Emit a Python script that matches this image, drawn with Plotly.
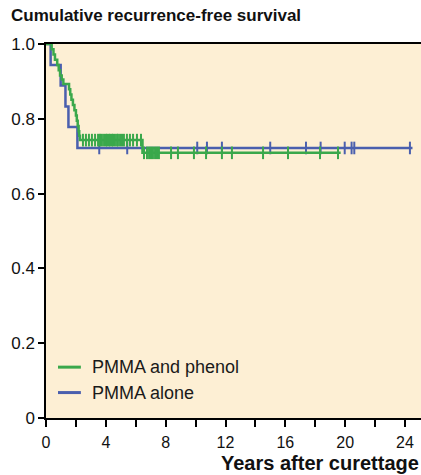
import numpy as np
import plotly.graph_objects as go

# ---- data ----
series_names = ["PMMA and phenol", "PMMA alone"]

# PMMA and phenol: Kaplan-Meier step points (time in years, survival)
green_t = [0, 0.38, 0.5, 0.6, 0.75, 0.85, 0.94, 1.05, 1.16, 1.54, 1.62, 1.7, 1.8,
           1.9, 2.0, 2.06, 2.12, 2.18, 2.22, 2.27, 6.45, 19.7]
green_s = [1.0, 0.986, 0.972, 0.958, 0.944, 0.93, 0.916, 0.905, 0.893, 0.879, 0.865,
           0.851, 0.837, 0.823, 0.809, 0.795, 0.781, 0.767, 0.755, 0.743, 0.709, 0.709]
green_censor = [2.47, 2.67, 2.87, 3.07, 3.28, 3.48, 3.61, 3.74, 3.88, 4.01, 4.08, 4.21,
                4.28, 4.41, 4.48, 4.61, 4.75, 4.81, 4.95, 5.08, 5.21, 5.41, 5.61, 5.82,
                6.08, 6.35, 6.55, 6.75, 6.89, 7.02, 7.15, 7.29, 7.42, 7.55, 8.36, 8.82,
                9.89, 10.70, 11.76, 12.43, 14.51, 16.18, 18.32, 19.52]

# PMMA alone
blue_t = [0, 0.31, 0.98, 1.3, 1.5, 2.1, 24.5]
blue_s = [1.0, 0.944, 0.889, 0.833, 0.778, 0.722, 0.722]
blue_censor = [3.56, 5.43, 10.11, 10.76, 11.76, 14.99, 17.38, 18.36, 19.97, 20.43,
               20.61, 24.33]

x_ticks = [0, 4, 8, 12, 16, 20, 24]
y_ticks = [0, 0.2, 0.4, 0.6, 0.8, 1.0]
y_ticklabels = ["0", "0.2", "0.4", "0.6", "0.8", "1.0"]

GREEN = "#3aa84b"
BLUE = "#4a5fae"
BG = "#fdefd4"
FONT = "Liberation Sans, Arial, sans-serif"


def step_value(times, surv, t):
    idx = np.searchsorted(np.array(times), t, side="right") - 1
    return [surv[i] for i in idx]


fig = go.Figure()
for name, t, s, cens, col in [
    (series_names[1], blue_t, blue_s, blue_censor, BLUE),
    (series_names[0], green_t, green_s, green_censor, GREEN),
]:
    fig.add_trace(go.Scatter(x=t, y=s, mode="lines", line=dict(color=col, width=2.5, shape="hv"),
                             name=name, showlegend=False, hoverinfo="skip"))
    fig.add_trace(go.Scatter(x=cens, y=step_value(t, s, cens), mode="markers",
                             marker=dict(symbol="line-ns", size=9, color=col,
                                         line=dict(width=2, color=col)),
                             showlegend=False, hoverinfo="skip"))

# manual legend (short line samples like the reference)
leg_y = [0.136, 0.068]
for name, col, yy in [(series_names[0], GREEN, leg_y[0]), (series_names[1], BLUE, leg_y[1])]:
    fig.add_shape(type="line", xref="paper", yref="paper", x0=0.032, x1=0.093, y0=yy, y1=yy,
                  line=dict(color=col, width=3))
    fig.add_annotation(xref="paper", yref="paper", x=0.116, y=yy, text=name, showarrow=False,
                       xanchor="left", yanchor="middle",
                       font=dict(family=FONT, size=18, color="#1a1a1a"))

# x-axis title at bottom right
fig.add_annotation(xref="paper", yref="paper", x=1, y=0, yshift=-45, xanchor="right",
                   yanchor="middle", text="<b>Years after curettage</b>", showarrow=False,
                   font=dict(family=FONT, size=20, color="#111111"))

fig.update_layout(
    width=421, height=475,
    margin=dict(l=46, r=0, t=44, b=57),
    paper_bgcolor="white", plot_bgcolor=BG,
    font=dict(family=FONT, size=16, color="#111111"),
    title=dict(text="<b>Cumulative recurrence-free survival</b>", x=11 / 421, xanchor="left",
               xref="container", y=1 - 15 / 475, yanchor="middle", yref="container",
               font=dict(family=FONT, size=17, color="#111111")),
    showlegend=False,
)
fig.update_xaxes(range=[0, 25.07], tickvals=x_ticks, ticks="outside", ticklen=7,
                 tickwidth=1.5, tickcolor="black", showline=True, linecolor="black",
                 linewidth=1.5, mirror=True, showgrid=False, zeroline=False,
                 ticklabelstandoff=2,
                 minor=dict(dtick=2, tick0=0, ticks="outside", ticklen=7, tickwidth=1.5,
                            tickcolor="black", showgrid=False),
                 tickfont=dict(family=FONT, size=16, color="#111111"))
fig.update_yaxes(range=[0, 1], tickvals=y_ticks, ticktext=y_ticklabels, ticks="outside",
                 ticklen=6, tickwidth=1.5, tickcolor="black", showline=True,
                 linecolor="black", linewidth=1.5, showgrid=False, zeroline=False,
                 tickfont=dict(family=FONT, size=17, color="#111111"))

fig.write_html("out.html", config={"displayModeBar": False},
               post_script="document.body.style.margin='0';")
